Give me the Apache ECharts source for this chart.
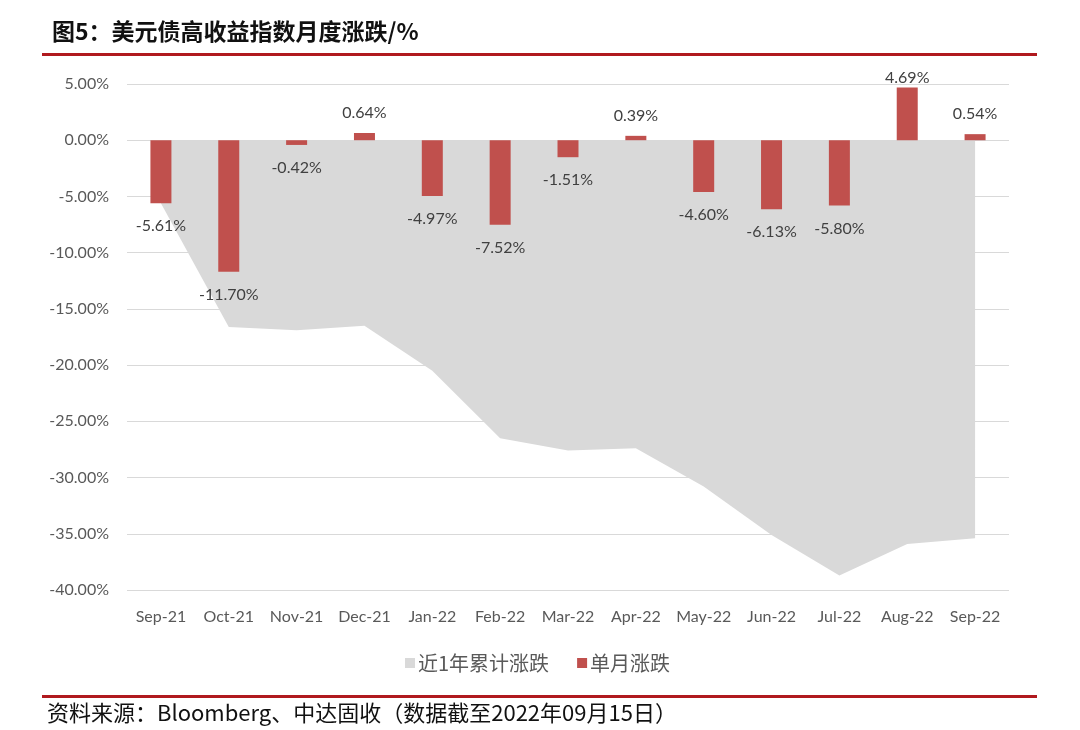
<!DOCTYPE html>
<html>
<head>
<meta charset="utf-8">
<script src="https://cdn.jsdelivr.net/npm/echarts@6/dist/echarts.min.js"></script>
<style>
html,body{margin:0;padding:0;background:#fff;}
#chart{width:1080px;height:730px;}
</style>
</head>
<body>
<div id="chart"></div>
<script>
var categories = ['Sep-21','Oct-21','Nov-21','Dec-21','Jan-22','Feb-22','Mar-22','Apr-22','May-22','Jun-22','Jul-22','Aug-22','Sep-22'];
var monthlyChange = [-5.61, -11.70, -0.42, 0.64, -4.97, -7.52, -1.51, 0.39, -4.60, -6.13, -5.80, 4.69, 0.54];
var cumulative12m = [-5.61, -16.6, -16.9, -16.5, -20.5, -26.5, -27.6, -27.4, -30.8, -35.1, -38.7, -35.9, -35.4];
var seriesNames = ['近1年累计涨跌', '单月涨跌'];
var titleText = '图5：美元债高收益指数月度涨跌/%';
var sourceText = '资料来源：Bloomberg、中达固收（数据截至2022年09月15日）';

var numFont = 'Lato, "Open Sans", sans-serif';
var cjkFont = '"Noto Sans CJK SC", sans-serif';

var barData = monthlyChange.map(function (v) {
  return {
    value: v,
    label: {
      position: v < 0 ? 'bottom' : 'top',
      distance: v < 0 ? 15 : (v > 4 ? 2 : 12)
    }
  };
});

var chart = echarts.init(document.getElementById('chart'), null, {renderer: 'canvas'});
chart.setOption({
  backgroundColor: '#ffffff',
  animation: false,
  title: {
    text: titleText,
    left: 47,
    top: 15,
    textStyle: {fontFamily: cjkFont, fontSize: 23, fontWeight: 'bold', color: '#111111'}
  },
  graphic: [
    {type: 'rect', shape: {x: 42, y: 53, width: 995, height: 3}, style: {fill: '#B0191E'}},
    {type: 'rect', shape: {x: 42, y: 695, width: 995, height: 3}, style: {fill: '#B0191E'}},
    {type: 'text', left: 47, top: 702, style: {text: sourceText, font: '22px "Noto Sans CJK SC", sans-serif', fill: '#111111'}}
  ],
  legend: {
    left: 400,
    top: 648,
    itemWidth: 10,
    itemHeight: 10,
    itemGap: 28,
    icon: 'rect',
    textStyle: {fontFamily: cjkFont, fontSize: 20, color: '#595959', padding: [0, 0, 0, -2]},
    data: seriesNames
  },
  grid: {left: 127, right: 71, top: 84, bottom: 140, containLabel: false},
  xAxis: {
    type: 'category',
    data: categories,
    boundaryGap: true,
    axisLine: {show: false},
    axisTick: {show: false},
    axisLabel: {fontFamily: numFont, fontSize: 16, color: '#595959', margin: 19, interval: 0}
  },
  yAxis: {
    type: 'value',
    min: -40,
    max: 5,
    interval: 5,
    axisLine: {show: false},
    axisTick: {show: false},
    splitLine: {lineStyle: {color: '#D9D9D9', width: 1}},
    axisLabel: {
      fontFamily: numFont, fontSize: 16, color: '#595959', margin: 18,
      formatter: function (v) { return v.toFixed(2) + '%'; }
    }
  },
  series: [
    {
      name: seriesNames[0],
      type: 'line',
      data: cumulative12m,
      symbol: 'none',
      lineStyle: {width: 0, color: '#D9D9D9'},
      itemStyle: {color: '#D9D9D9'},
      areaStyle: {color: '#D9D9D9', opacity: 1},
      z: 1
    },
    {
      name: seriesNames[1],
      type: 'bar',
      data: barData,
      barWidth: 21,
      itemStyle: {color: '#C0504D'},
      label: {
        show: true,
        fontFamily: numFont,
        fontSize: 16,
        color: '#404040',
        formatter: function (p) { return p.value.toFixed(2) + '%'; }
      },
      z: 2
    }
  ]
});
</script>
</body>
</html>
